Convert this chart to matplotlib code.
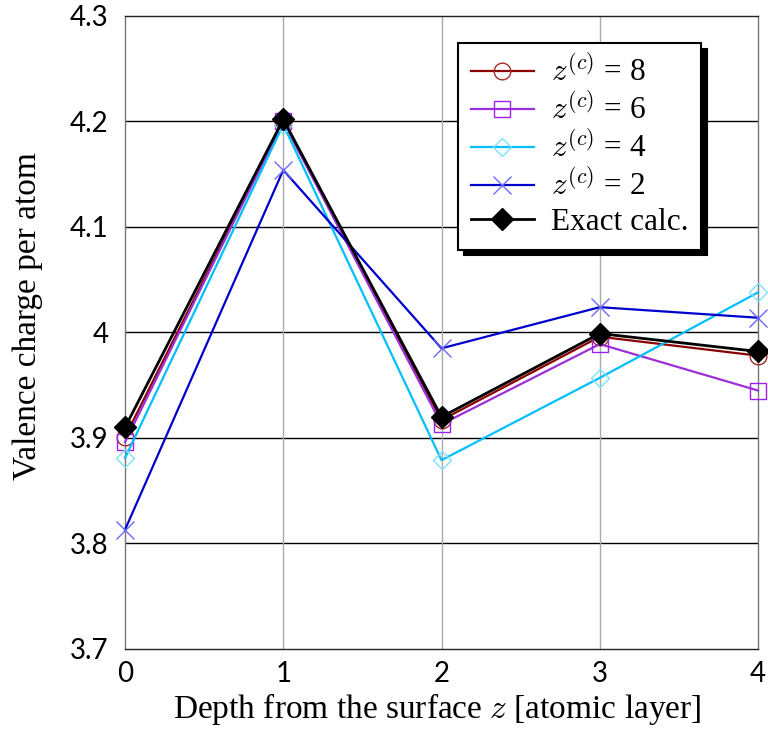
import matplotlib
matplotlib.use("Agg")
import matplotlib.pyplot as plt

depth = [0, 1, 2, 3, 4]
zc8 = [3.901, 4.200, 3.917, 3.996, 3.978]
zc6 = [3.896, 4.200, 3.913, 3.989, 3.945]
zc4 = [3.881, 4.197, 3.879, 3.957, 4.038]
zc2 = [3.813, 4.154, 3.985, 4.024, 4.014]
exact = [3.910, 4.202, 3.920, 3.999, 3.982]
labels = [r"$z^{(c)}$ = 8", r"$z^{(c)}$ = 6", r"$z^{(c)}$ = 4", r"$z^{(c)}$ = 2", "Exact calc."]
yticks = [3.7, 3.8, 3.9, 4.0, 4.1, 4.2, 4.3]
yticklabels = ["3.7", "3.8", "3.9", "4", "4.1", "4.2", "4.3"]

plt.rcParams["mathtext.fontset"] = "cm"

fig = plt.figure(figsize=(7.68, 7.29), dpi=100)
W, H = 768, 729
ax = fig.add_axes([125/W, 1 - 649/H, (758-125)/W, (649-16)/H])

ax.set_xlim(0, 4)
ax.set_ylim(3.7, 4.3)
ax.set_yticks(yticks)
ax.set_yticklabels(yticklabels)
ax.set_xticks(depth)

for y in yticks[1:-1]:
    ax.axhline(y, color="black", lw=1.0, zorder=1)
for x in depth[1:-1]:
    ax.axvline(x, color="#aaaaaa", lw=1.0, zorder=1)

ms = 12
ax.plot(depth, zc8, color="#8b0000", lw=1.6, marker="o", ms=ms, mfc="none", mec="#a52a2a", mew=1.0, label=labels[0], zorder=3, clip_on=False)
ax.plot(depth, zc6, color="#9b30d9", lw=1.6, marker="s", ms=ms, mfc="none", mec="#a020f0", mew=1.0, label=labels[1], zorder=3, clip_on=False)
ax.plot(depth, zc4, color="#00bfff", lw=1.6, marker="D", ms=ms*0.8, mfc="none", mec="#7fdfff", mew=1.0, label=labels[2], zorder=3, clip_on=False)
ax.plot(depth, zc2, color="#0000cd", lw=1.6, marker="x", ms=ms*1.1, mec="#6a6aff", mew=1.0, label=labels[3], zorder=3, clip_on=False)
ax.plot(depth, exact, color="black", lw=2.0, marker="D", ms=ms*0.9, mfc="black", mec="black", label=labels[4], zorder=4, clip_on=False)

for side in ["left", "right"]:
    ax.spines[side].set_color("#777777")
for side in ["top", "bottom"]:
    ax.spines[side].set_color("#222222")
for s in ax.spines.values():
    s.set_linewidth(1.0)

ax.tick_params(length=0, labelsize=20, pad=9)
ax.tick_params(axis="y", pad=12)
for lab in ax.get_xticklabels() + ax.get_yticklabels():
    lab.set_family("Lato")

ax.set_xlabel(r"Depth from the surface $z$ [atomic layer]", family="Liberation Serif", fontsize=24)
ax.set_ylabel("Valence charge per atom", family="Liberation Serif", fontsize=24)
ax.xaxis.set_label_coords((437-125)/633, (649-709)/633)
ax.yaxis.set_label_coords((28-125)/633, (649-316)/633)
ax.xaxis.label.set_va("center")
ax.yaxis.label.set_va("center")

leg = ax.legend(loc="upper left", bbox_to_anchor=((458-125)/633, (649-43)/633), prop={"family": "Liberation Serif", "size": 22.5},
                frameon=True, fancybox=False, shadow={"color": "black", "alpha": 1.0, "ox": 4, "oy": -4},
                handlelength=2.0, borderpad=0.42, labelspacing=0.15, handletextpad=0.55, borderaxespad=0)
leg.get_frame().set_edgecolor("black")
leg.get_frame().set_linewidth(1.5)

fig.savefig("out.png", dpi=100)
